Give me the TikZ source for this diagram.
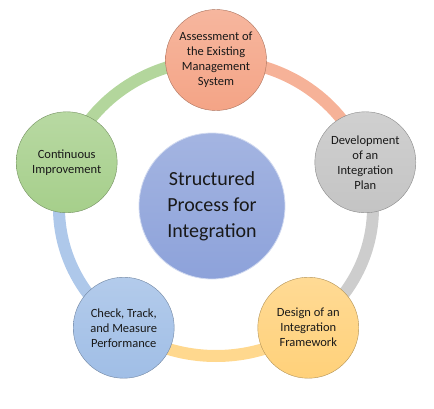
\documentclass[tikz,border=0pt]{standalone}
\usepackage{fontspec}
\setmainfont{Carlito}
\usetikzlibrary{calc}
\definecolor{salmon}{HTML}{F4A486}
\definecolor{silver}{HTML}{C4C4C4}
\definecolor{sand}{HTML}{FFD17A}
\definecolor{sky}{HTML}{A0BEE6}
\definecolor{leaf}{HTML}{A6CF8B}
\definecolor{hubblue}{HTML}{8DA2DA}
\tikzset{
    stage/.style = {circle,
                    top color=#1!80!white,
                    bottom color=#1,
                    draw=#1!70!black,
                    thin,
                    text=black!90,
                    align=center,
                    inner sep=0pt,
                    font=\fontsize{12.5}{15}\selectfont,
                    minimum size=101pt},
    hub/.style =   {circle,
                    top color=hubblue!80!white,
                    bottom color=hubblue,
                    draw=hubblue!40!white,
                    thick,
                    text=black!90,
                    align=center,
                    inner sep=0pt,
                    font=\fontsize{20}{26}\selectfont,
                    minimum size=146pt},
    ring/.style =  {line width=12pt,
                    draw=#1!85!white},
    -,
    x=1pt, y=1pt}

\begin{document}
\begin{tikzpicture}
    \useasboundingbox (0,0) rectangle (434,408);
    \coordinate (c) at (216,200);
    \coordinate (p1) at ($(c)+(90:157pt and 148pt)$);
    \coordinate (p2) at ($(c)+(18:157pt and 148pt)$);
    \coordinate (p3) at ($(c)+(-54:157pt and 148pt)$);
    \coordinate (p4) at ($(c)+(-126:157pt and 148pt)$);
    \coordinate (p5) at ($(c)+(162:157pt and 148pt)$);

    % the cycle
    \draw[ring=salmon] (p1) arc[start angle=90, end angle=18, x radius=157pt, y radius=148pt];
    \draw[ring=silver] (p2) arc[start angle=18, end angle=-54, x radius=157pt, y radius=148pt];
    \draw[ring=sand]   (p3) arc[start angle=-54, end angle=-126, x radius=157pt, y radius=148pt];
    \draw[ring=sky]    (p4) arc[start angle=-126, end angle=-198, x radius=157pt, y radius=148pt];
    \draw[ring=leaf]   (p5) arc[start angle=162, end angle=90, x radius=157pt, y radius=148pt];

    \node[hub]          (core)   at (212,202) {Structured\\Process for\\Integration};
    \node[stage=salmon] (assess) at (p1) {Assessment of\\the Existing\\Management\\System};
    \node[stage=silver] (plan)   at (p2) {Development\\of an\\Integration\\Plan};
    \node[stage=sand]   (design) at (p3) {Design of an\\Integration\\Framework};
    \node[stage=sky]    (check)  at (p4) {Check, Track,\\and Measure\\Performance};
    \node[stage=leaf]   (improve) at (p5) {Continuous\\Improvement};
\end{tikzpicture}
\end{document}
